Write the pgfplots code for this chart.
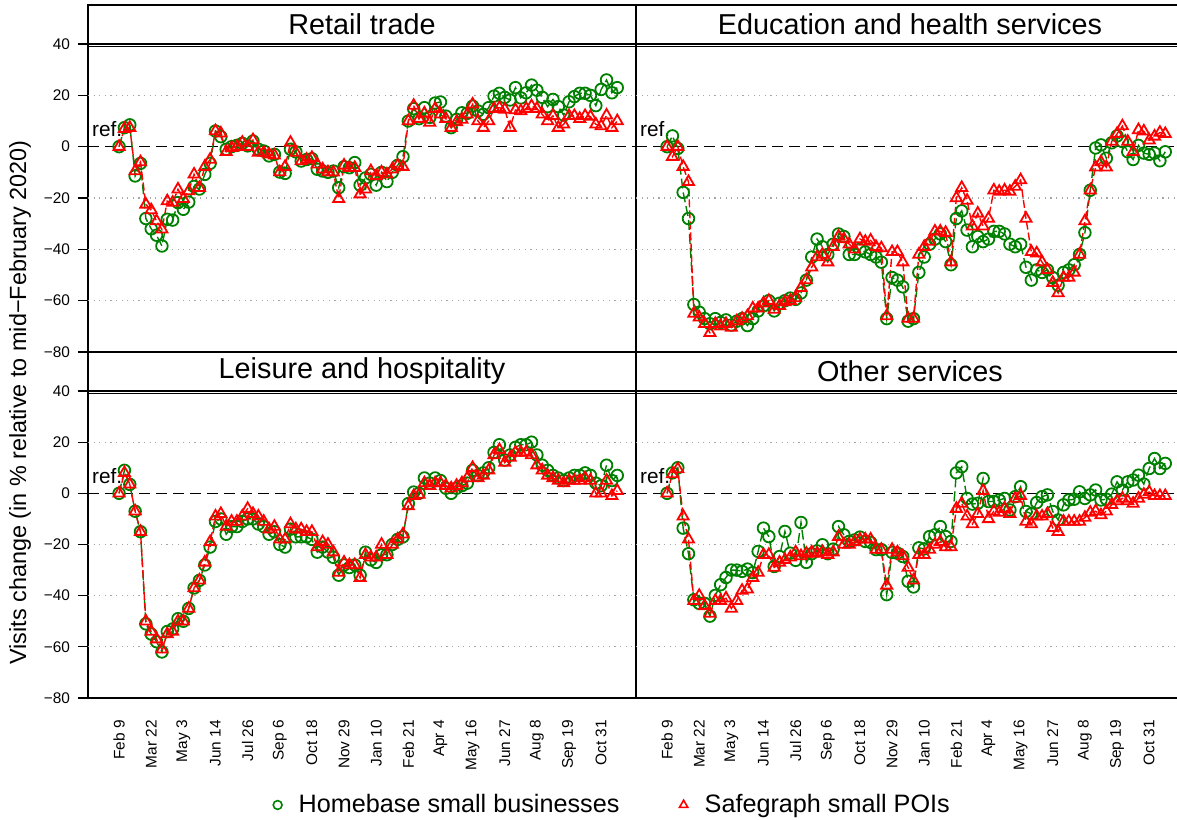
\documentclass[border=0pt]{standalone}
\usepackage{fontspec}
\setmainfont{Liberation Sans}
\usepackage{pgfplots}
\usepackage{pgfplotstable}
\pgfplotsset{compat=1.18}
\definecolor{hbgreen}{RGB}{0,128,0}
\definecolor{sgred}{RGB}{255,0,0}

\pgfplotstableread{
w hb sg
0 0 0
1 7.4 7
2 8.5 7.4
3 -11.4 -9.5
4 -6.5 -6
5 -28 -22.5
6 -32 -24.7
7 -34.5 -29
8 -38.7 -32.2
9 -28.3 -21.2
10 -28.6 -21.8
11 -21.8 -16.6
12 -24.4 -20.3
13 -21.6 -17.3
14 -15.5 -10.8
15 -16.5 -16
16 -10.8 -7.8
17 -6.5 -5
18 6.1 6.1
19 3.9 5.2
20 -1 -2
21 0 -0.4
22 0.5 0
23 1.3 1.6
24 0.3 0
25 2.2 2.6
26 -1 -2.3
27 -1.7 -2.3
28 -3.6 -3
29 -3 -3.4
30 -9.9 -9.9
31 -10.4 -7.8
32 -1 1.6
33 -2 -2.3
34 -5.6 -5.6
35 -5 -5
36 -4.7 -4.3
37 -8.8 -6.9
38 -9.5 -8.8
39 -10 -9.9
40 -9.5 -10
41 -16 -20.3
42 -7.8 -7.3
43 -8.2 -8.2
44 -6.2 -8.2
45 -15 -18.5
46 -12.2 -16.6
47 -10.8 -9.5
48 -15 -11.4
49 -10 -10
50 -13.6 -10.8
51 -10 -8.8
52 -7.3 -7.3
53 -3.9 -7.8
54 10 10
55 14.8 16
56 10.9 10.9
57 15.2 13
58 11.4 9.4
59 17 14.8
60 17.4 12.6
61 11.9 10.9
62 7.4 7.4
63 10.6 9.6
64 13.2 10.6
65 13 12.6
66 15.8 16.5
67 13.9 10
68 12.6 7.4
69 15.2 10
70 19.7 14.8
71 20.8 15.2
72 19.2 14.5
73 18.2 7.4
74 23 14.3
75 19 13.9
76 21 14.8
77 24 15.8
78 22 14.8
79 19.2 12.6
80 15.6 10
81 18.4 12
82 15.6 7.4
83 12.3 8.7
84 17.5 12
85 19.5 12
86 20.8 10.9
87 20.8 12
88 20 11.7
89 16 8.7
90 22.3 8
91 26 12.2
92 21 7.4
93 23 10
}\retail

\pgfplotstableread{
w hb sg
0 0 0
1 4.2 -3.9
2 -0.7 0
3 -17.8 -7.8
4 -28 -13.7
5 -61.5 -65
6 -64.5 -66.5
7 -67 -69
8 -69 -72.5
9 -67 -69
10 -68.5 -70
11 -67.5 -69
12 -69.5 -70.5
13 -68 -68
14 -67 -67
15 -69.7 -66
16 -67 -63
17 -64 -63
18 -62 -61
19 -60 -60
20 -64 -63.5
21 -61 -62
22 -60 -60.5
23 -59 -60
24 -59.5 -59
25 -57 -55
26 -52 -52
27 -43 -47
28 -36 -43
29 -39 -42
30 -42 -45
31 -38 -39
32 -34 -35
33 -35 -36
34 -42 -38
35 -42 -40
36 -40 -36
37 -41 -37
38 -42 -36.5
39 -43 -39
40 -45 -39.5
41 -67 -66
42 -51 -41
43 -52 -41
44 -54.6 -45
45 -68 -67
46 -67 -67
47 -49 -42
48 -43 -39
49 -38 -37
50 -36 -33
51 -34 -33
52 -37 -33.5
53 -46 -45
54 -28 -20
55 -25 -16
56 -32.5 -21
57 -39 -31
58 -35 -26
59 -37 -31
60 -36 -28
61 -33 -17
62 -33 -17.5
63 -34 -17
64 -38 -17.5
65 -39 -15.5
66 -38 -13
67 -47 -28
68 -52 -41
69 -48 -41.5
70 -49 -45
71 -48 -48
72 -51 -53
73 -54 -57
74 -49 -51
75 -48 -51
76 -46 -49
77 -42 -42
78 -33.5 -29
79 -17 -17
80 -0.5 -8
81 0.7 -6
82 -4.5 -8
83 1.5 2
84 4.2 5
85 2 8
86 -2 2
87 -5 -2
88 0.5 6.5
89 -2.5 6
90 -3 2.5
91 -2.5 4
92 -5.5 5.5
93 -2 5
}\educ

\pgfplotstableread{
w hb sg
0 0 0
1 9 8
2 3.5 3.5
3 -7 -7
4 -15 -15
5 -51 -50
6 -55 -54
7 -58 -57
8 -62 -61
9 -54 -55
10 -53 -54
11 -49 -50
12 -50 -50
13 -45 -45
14 -37 -37
15 -34 -34
16 -28 -27
17 -21 -19
18 -11 -9
19 -10 -8
20 -16 -13
21 -13 -11
22 -13 -11
23 -11 -9
24 -10 -6
25 -10 -8
26 -12 -9
27 -13 -11
28 -16 -14
29 -15 -13
30 -20 -18
31 -21 -18
32 -14 -12
33 -17 -14
34 -17 -14
35 -17 -15
36 -18 -15
37 -23 -21
38 -21 -19
39 -23 -20
40 -25 -23
41 -32 -31
42 -28 -27
43 -29 -28
44 -28 -28
45 -32 -33
46 -23 -24
47 -26 -25
48 -27 -25
49 -24 -20
50 -24 -24
51 -20 -20
52 -18 -18
53 -17 -16
54 -4 -5
55 0.5 -1
56 0 -0.5
57 6 4
58 4 3
59 6 4
60 5 4
61 2 3
62 0 2
63 2 3
64 3 4
65 4 6
66 9 10
67 7 6
68 8 7
69 10 9
70 16 15
71 19 17
72 13 12
73 15 14
74 18 16
75 19 16
76 19 16
77 20 15
78 15 11
79 11 9
80 9 7
81 7 6
82 6 5
83 5 4
84 6 5
85 7 5
86 7 5
87 8 6
88 7 5
89 4 0
90 3 0
91 11 5
92 5 -1
93 7 1
}\leisure

\pgfplotstableread{
w hb sg
0 0 0
1 8 7.5
2 10 9.5
3 -13.6 -9
4 -23.6 -18
5 -41.6 -42
6 -43 -40
7 -43 -44
8 -48 -47
9 -39.9 -42
10 -35.7 -42
11 -32.9 -41
12 -30 -45
13 -30 -42
14 -30.5 -38
15 -29.6 -37.5
16 -31 -33
17 -22.7 -31
18 -13.6 -24
19 -16.9 -24
20 -28.6 -29
21 -24.7 -27
22 -14.9 -26
23 -23.4 -25
24 -26.2 -23
25 -11.4 -24.5
26 -27 -23.5
27 -23.6 -23
28 -22.5 -23.5
29 -20.1 -23
30 -23.6 -24
31 -21.8 -23
32 -13 -17
33 -16.2 -20
34 -18.8 -20
35 -18.2 -19
36 -17.1 -18
37 -18.8 -18
38 -19.2 -18
39 -22 -22
40 -22 -22
41 -39.6 -36
42 -23.1 -22
43 -23.4 -23
44 -24.7 -24.5
45 -34.4 -29
46 -36.6 -34
47 -21.3 -24
48 -21.7 -24
49 -16.9 -22
50 -16.2 -20
51 -13 -19
52 -16.9 -21
53 -18.8 -21
54 8 -6
55 10.4 -4
56 -2 -9
57 -4.2 -12
58 -3.9 -8
59 5.8 1
60 -3.2 -10
61 -3.2 -7
62 -2.6 -7.5
63 -2 -6
64 -6.5 -8
65 -1.3 -2
66 2.6 -1
67 -7.1 -11
68 -8 -12
69 -3.6 -9
70 -1.3 -9
71 -0.6 -8
72 -7.1 -13.5
73 -10.4 -15
74 -4.5 -11
75 -2.6 -11
76 -2.3 -11
77 0.6 -11
78 -2 -9.5
79 -0.6 -7.5
80 1.3 -7
81 -2.6 -8.5
82 -2.3 -7
83 -0.3 -4.5
84 4.5 -3
85 1.3 -2
86 4.5 -3
87 5.2 -4
88 7.1 -2
89 3.6 -0.5
90 9.7 0.5
91 13.6 -1
92 9.7 -1
93 11.7 -1
}\other

\newcommand{\tickfont}{\fontsize{7.7}{8}\selectfont}

\pgfplotsset{
  panel/.style={
    scale only axis,
    width=274pt, height=154pt,
    xmin=-5.8, xmax=96.5, ymin=-80, ymax=40,
    clip=false,
    axis line style={line width=1.4pt},
    ytick={-80,-60,-40,-20,0,20,40},
    yticklabels={−80,−60,−40,−20,0,20,40},
    tick style={line width=0.6pt, black},
    tick align=outside,
    ytick pos=left,
    major tick length=5pt,
    tick label style={font=\tickfont},
    xtick=\empty,
  },
  leftpanel/.style={yticklabel style={xshift=-0.5pt}},
  rightpanel/.style={ytick=\empty},
  bottompanel/.style={
    xtick={0,6,...,90},
    xticklabels={Feb 9,Mar 22,May 3,Jun 14,Jul 26,Sep 6,Oct 18,Nov 29,Jan 10,Feb 21,Apr 4,May 16,Jun 27,Aug 8,Sep 19,Oct 31},
    xtick pos=bottom,
    xtick style={draw=none},
    xticklabel style={rotate=90, anchor=east, font=\tickfont},
    xticklabel shift=2.5pt,
  },
  hbplot/.style={hbgreen, line width=0.7pt, dash pattern=on 5pt off 2pt,
    mark=o, mark size=2.9pt, mark options={solid, line width=0.9pt}},
  sgplot/.style={sgred, line width=0.7pt, dash pattern=on 4pt off 1.5pt,
    mark=triangle, mark size=3.2pt, mark options={solid, line width=0.9pt}},
}

\newcommand{\panelextras}[1]{%
  \draw[gray!70, line width=0.6pt, dash pattern=on 0.6pt off 2.2pt]
    (axis cs:-5.8,20) -- (axis cs:96.5,20)
    (axis cs:-5.8,-20) -- (axis cs:96.5,-20)
    (axis cs:-5.8,-40) -- (axis cs:96.5,-40)
    (axis cs:-5.8,-60) -- (axis cs:96.5,-60);
  \draw[black, line width=0.8pt, dash pattern=on 5.5pt off 3pt]
    (axis cs:-5.8,0) -- (axis cs:96.5,0);
  \node[anchor=base west, inner sep=0pt, font=\fontsize{10.4}{11}\selectfont]
    at (axis cs:-5.1,3.9) {ref.};
  \draw[line width=1.4pt] (rel axis cs:0,1) rectangle ([yshift=19.5pt]rel axis cs:1,1);
  \draw[line width=0.5pt] ([yshift=-1.2pt]rel axis cs:0,1) -- ([yshift=-1.2pt]rel axis cs:1,1);
  \node[font=\fontsize{14.4}{16}\selectfont, inner sep=0pt]
    at ([yshift=9.9pt]rel axis cs:0.5,1) {#1};
}

\begin{document}
\begin{tikzpicture}
\useasboundingbox (0,0) rectangle (588.5pt,409.5pt);

% Top-left: Retail trade
\begin{axis}[panel, leftpanel, at={(44pt,233.5pt)}, anchor=south west]
  \panelextras{Retail trade}
  \addplot[hbplot] table[x=w, y=hb] {\retail};
  \addplot[sgplot] table[x=w, y=sg] {\retail};
\end{axis}

% Top-right: Education
\begin{axis}[panel, rightpanel, at={(318pt,233.5pt)}, anchor=south west]
  \panelextras{Education and health services}
  \addplot[hbplot] table[x=w, y=hb] {\educ};
  \addplot[sgplot] table[x=w, y=sg] {\educ};
\end{axis}

% Bottom-left: Leisure
\begin{axis}[panel, leftpanel, bottompanel, height=153.5pt, at={(44pt,60.5pt)}, anchor=south west,
  legend columns=2,
  legend image code/.code={\draw[#1] plot coordinates {(0.12cm,0cm)}; \path[draw=none] (0.42cm,0cm);},
  legend style={at={(0.959,-0.3485)}, anchor=center, draw=none, fill=none,
    font=\fontsize{12.6}{14}\selectfont,
    /tikz/every even column/.append style={column sep=28pt}},
  ]
  \panelextras{Leisure and hospitality}
  \addplot[hbplot, forget plot] table[x=w, y=hb] {\leisure};
  \addplot[sgplot, forget plot] table[x=w, y=sg] {\leisure};
  \addlegendimage{only marks, mark=o, hbgreen, mark size=2.2pt, mark options={solid, line width=0.8pt}}
  \addlegendentry{Homebase small businesses}
  \addlegendimage{only marks, mark=triangle, sgred, mark size=2.4pt, mark options={solid, line width=0.8pt}}
  \addlegendentry{Safegraph small POIs}
\end{axis}

% Bottom-right: Other services
\begin{axis}[panel, rightpanel, bottompanel, height=153.5pt, at={(318pt,60.5pt)}, anchor=south west]
  \panelextras{Other services}
  \addplot[hbplot] table[x=w, y=hb] {\other};
  \addplot[sgplot] table[x=w, y=sg] {\other};
\end{axis}

\node[rotate=90, font=\fontsize{11.7}{13}\selectfont, inner sep=0pt] at (10pt,208.3pt)
  {Visits change (in \% relative to mid−February 2020)};
\end{tikzpicture}
\end{document}
